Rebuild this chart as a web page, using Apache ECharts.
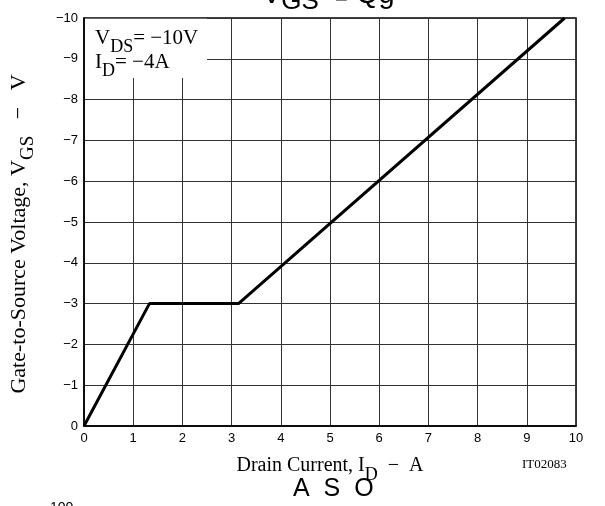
<!DOCTYPE html>
<html>
<head>
<meta charset="utf-8">
<script src="https://cdn.jsdelivr.net/npm/echarts@6/dist/echarts.min.js"></script>
<style>html,body{margin:0;padding:0;background:#fff}#c{width:605px;height:506px}</style>
</head>
<body>
<div id="c"></div>
<script>
// Data
var xTicks = [0,1,2,3,4,5,6,7,8,9,10];
var yTicks = [0,-1,-2,-3,-4,-5,-6,-7,-8,-9,-10];
var currentA = [0, 1.33, 3.14, 9.77];
var vgsV = [0, -3, -3, -10];

var pts = currentA.map(function(x, i){ return [x, vgsV[i]]; });
var serif = '"Liberation Serif","Times New Roman",serif';
var sans = '"Liberation Sans",Arial,sans-serif';
function minus(v){ return String(v).replace('-', '\u2212'); }

var xNameRich = {
  m:{fontFamily:serif, fontSize:20, color:'#000', lineHeight:22, verticalAlign:'top'},
  s:{fontFamily:serif, fontSize:18, color:'#000', lineHeight:14, padding:[10,0,0,0], verticalAlign:'top'}
};
var yNameRich = {
  m:{fontFamily:serif, fontSize:22, color:'#000', lineHeight:24, verticalAlign:'top'},
  s:{fontFamily:serif, fontSize:19, color:'#000', lineHeight:14, padding:[11,0,0,0], verticalAlign:'top'}
};

var chart = echarts.init(document.getElementById('c'), null, {renderer:'canvas'});
chart.setOption({
  animation:false,
  backgroundColor:'#fff',
  grid:{left:84, right:29, top:18, bottom:80, containLabel:false, outerBoundsMode:'none',
        show:true, borderColor:'#000', borderWidth:1.5, backgroundColor:'transparent'},
  xAxis:{
    type:'value', min:0, max:10, interval:1,
    axisLine:{show:true, lineStyle:{color:'#000', width:1.5}},
    axisTick:{show:false},
    splitLine:{show:true, lineStyle:{color:'#333', width:1}},
    axisLabel:{color:'#000', fontSize:13, fontFamily:sans, margin:6, formatter:function(v){return minus(v);}},
    name:'{m|Drain Current, I}{s|D}{m|  \u2212  A}',
    nameLocation:'middle', nameGap:30,
    nameTextStyle:{rich:xNameRich}
  },
  yAxis:{
    type:'value', min:-10, max:0, interval:1, inverse:true,
    axisLine:{show:true, lineStyle:{color:'#000', width:1.5}},
    axisTick:{show:false},
    splitLine:{show:true, lineStyle:{color:'#333', width:1}},
    axisLabel:{color:'#000', fontSize:13, fontFamily:sans, margin:6, formatter:function(v){return minus(v);}},
    name:'{m|Gate-to-Source Voltage, V}{s|GS}{m|   \u2212   V}',
    nameLocation:'middle', nameGap:52, nameRotate:90,
    nameTextStyle:{padding:[0,24,0,0], rich:yNameRich}
  },
  series:[{
    type:'line', data:pts, symbol:'none',
    lineStyle:{color:'#000', width:3},
    markArea:{silent:true, itemStyle:{color:'#fff'}, data:[[{coord:[0.02,-9.98]},{coord:[2.5,-8.53]}]]}
  }],
  graphic:[
    {type:'text', left:95, top:28, z:100, style:{
      text:'{m|V}{s|DS}{m|= \u221210V}\n{m|I}{s|D}{m|= \u22124A}',
      rich:{
        m:{fontFamily:serif, fontSize:21, fill:'#000', lineHeight:24, verticalAlign:'top'},
        s:{fontFamily:serif, fontSize:18, fill:'#000', lineHeight:14, padding:[10,0,0,0], verticalAlign:'top'}
      }}},
    {type:'text', left:522, top:458, z:100, style:{text:'IT02083', font:'13px '+serif, fill:'#000'}},
    {type:'text', left:262, top:-20, z:100, style:{
      text:'{m|V}{s|GS}{m|  }{d|\u2212}{m| Qg}',
      rich:{
        m:{fontFamily:sans, fontSize:29, fill:'#000', lineHeight:32, verticalAlign:'top'},
        d:{fontFamily:sans, fontSize:22, fill:'#000', lineHeight:22, padding:[10,0,0,0], verticalAlign:'top'},
        s:{fontFamily:sans, fontSize:26, fill:'#000', lineHeight:26, padding:[9,0,0,0], verticalAlign:'top'}
      }}},
    {type:'text', left:293, top:477, z:100, style:{text:'A  S  O', font:'25px '+sans, fill:'#000'}},
    {type:'text', left:50, top:501, z:100, style:{text:'100', font:'14px '+sans, fill:'#000'}}
  ]
});
</script>
</body>
</html>
